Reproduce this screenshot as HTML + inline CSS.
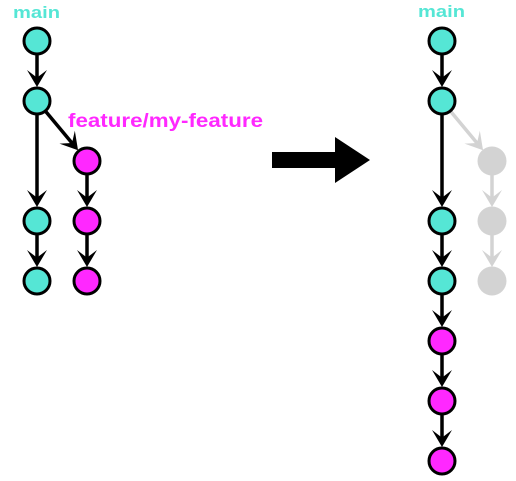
<!DOCTYPE html>
<html><head><meta charset="utf-8"><style>
html,body{margin:0;padding:0;background:#fff;width:516px;height:481px;overflow:hidden}
text{font-family:"Liberation Sans",sans-serif;font-weight:bold}
</style></head><body>
<svg id="g" width="516" height="481" viewBox="0 0 516 481" xmlns="http://www.w3.org/2000/svg">
<text x="13" y="18" font-size="17" textLength="47" lengthAdjust="spacingAndGlyphs" fill="#55e6d5">main</text>
<text x="418" y="17" font-size="17" textLength="47" lengthAdjust="spacingAndGlyphs" fill="#55e6d5">main</text>
<text x="68" y="127" font-size="19" textLength="195" lengthAdjust="spacingAndGlyphs" fill="#ff28ff">feature/my-feature</text>
<path d="M272,152 L335,152 L335,137 L370,160 L335,183 L335,168 L272,168 Z" fill="#000"/>
</svg>
<script>
const TEAL="#55e6d5",MAG="#ff28ff",GRAY="#d3d3d3";
const nodes=[
 ["l1",37,41,TEAL,0],["l2",37,101,TEAL,0],["l3",37,221,TEAL,0],["l4",37,281,TEAL,0],
 ["f1",87,161,MAG,0],["f2",87,221,MAG,0],["f3",87,281,MAG,0],
 ["r1",442,41,TEAL,0],["r2",442,101,TEAL,0],["r3",442,221,TEAL,0],["r4",442,281,TEAL,0],
 ["r5",442,341,MAG,0],["r6",442,401,MAG,0],["r7",442,461,MAG,0],
 ["g1",492,161,GRAY,1],["g2",492,221,GRAY,1],["g3",492,281,GRAY,1]];
const edges=[["l1","l2"],["l2","l3"],["l3","l4"],["l2","f1"],["f1","f2"],["f2","f3"],
 ["r1","r2"],["r2","r3"],["r3","r4"],["r4","r5"],["r5","r6"],["r6","r7"],
 ["r2","g1",1],["g1","g2",1],["g2","g3",1]];
const R=13,NS="http://www.w3.org/2000/svg",svg=document.getElementById("g");
const byId={};nodes.forEach(n=>byId[n[0]]=n);
function mk(t,a){const e=document.createElementNS(NS,t);for(const k in a)e.setAttribute(k,a[k]);svg.appendChild(e);return e;}
edges.forEach(e=>{
 const a=byId[e[0]],b=byId[e[1]],col=e[2]?GRAY:"#000";
 const dx=b[1]-a[1],dy=b[2]-a[2],L=Math.hypot(dx,dy),ux=dx/L,uy=dy/L;
 const tx=b[1]-ux*(R+1),ty=b[2]-uy*(R+1);
 const ln=mk("line",{x1:a[1],y1:a[2],x2:tx-ux*8,y2:ty-uy*8,stroke:col,"stroke-width":3.5});
 
 
 const px=-uy,py=ux,h=17,w=10;
 const bx=tx-ux*h,by=ty-uy*h,cx=tx-ux*h*0.55,cy=ty-uy*h*0.55;
 const hd=mk("path",{d:`M${tx},${ty} L${bx+px*w},${by+py*w} L${cx},${cy} L${bx-px*w},${by-py*w} Z`,fill:col});
 
 
});
nodes.forEach(n=>{
 const c=mk("circle",{cx:n[1],cy:n[2],r:R,fill:n[3],stroke:n[4]?"none":"#000","stroke-width":3});
 if(n[4])c.setAttribute("r",R+1.5);
 
 
});
</script>
</body></html>
